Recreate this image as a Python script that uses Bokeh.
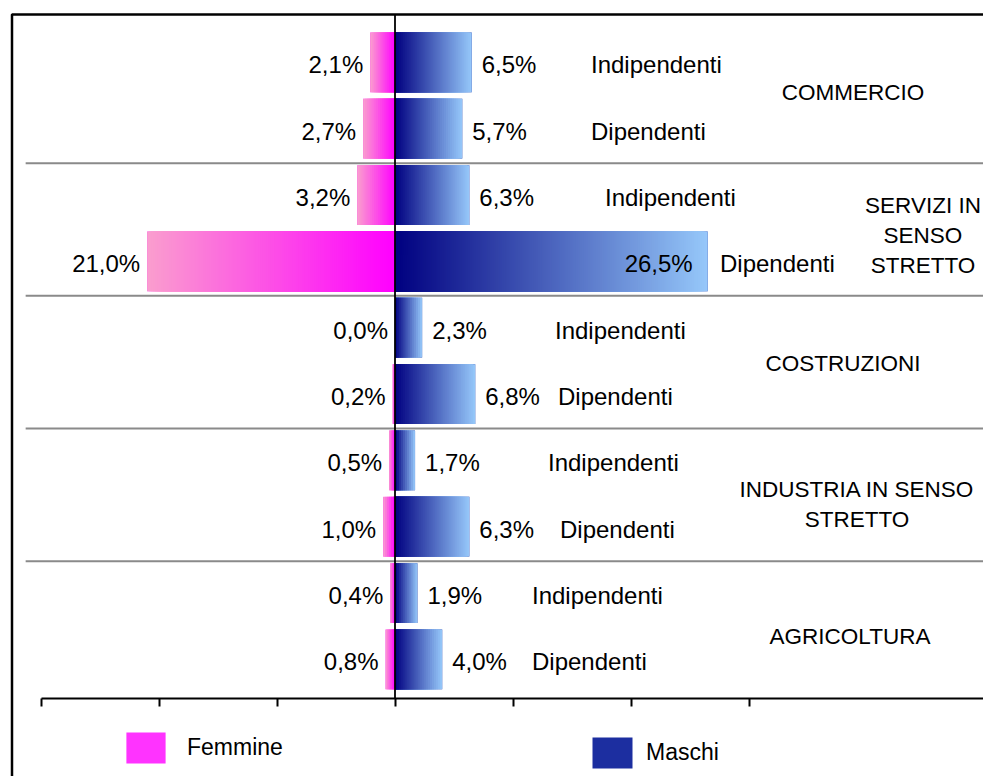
from bokeh.plotting import figure
from bokeh.models import ColumnDataSource, FixedTicker, Legend, LegendItem, Range1d, LinearAxis
from bokeh.core.properties import value
from bokeh.embed import file_html
from bokeh.resources import INLINE

# ---------------- data ----------------
settori = ["COMMERCIO", "SERVIZI IN\nSENSO\nSTRETTO", "COSTRUZIONI",
           "INDUSTRIA IN SENSO\nSTRETTO", "AGRICOLTURA"]
posizioni = ["Indipendenti", "Dipendenti"]
femmine = [2.1, 2.7, 3.2, 21.0, 0.0, 0.2, 0.5, 1.0, 0.4, 0.8]
maschi = [6.5, 5.7, 6.3, 26.5, 2.3, 6.8, 1.7, 6.3, 1.9, 4.0]
x_ticks = [-30, -20, -10, 0, 10, 20, 30]
serie = ["Femmine", "Maschi"]

# ---------------- style / layout ----------------
FONT = value("Liberation Sans")
FS = value("24px")
FS_SECT = value("22.5px")
F_NEAR, F_FAR = (255, 0, 255), (250, 158, 206)
M_NEAR, M_FAR = (0, 0, 128), (150, 200, 250)
BAR_H = 0.9
TYPE_LABEL_SHIFT = [196, 196, 210, 325, 160, 163, 153, 165, 137, 137]   # px from zero
SECTOR_LABEL_X = [458, 528, 448, 462, 455]                               # px from zero
SECTOR_LABEL_DY = [-4, 6, 1, 10, 9]                                      # px
PX_PER_X = 11.8

W, H = 983, 776
X0, X1 = -394.5 / PX_PER_X, (W - 394.5) / PX_PER_X
Y0, Y1 = -(H - 693.4) / 66.34, 693.4 / 66.34
AXIS_Y = -0.065
TOP_Y = (693.4 - 14) / 66.34
LEFT_X = (11.5 - 394.5) / PX_PER_X

n = len(femmine)
row_y = [n - (i + 0.5) for i in range(n)]
bar_y = [y + 0.02 for y in row_y]


def mix(c0, c1, t):
    return "#%02x%02x%02x" % tuple(int(round(a + (b - a) * t)) for a, b in zip(c0, c1))


p = figure(width=W, height=H, x_range=Range1d(X0, X1), y_range=Range1d(Y0, Y1),
           output_backend="svg", toolbar_location=None, min_border=0,
           x_axis_type=None, y_axis_type=None)
p.outline_line_color = None
p.background_fill_color = "white"
p.border_fill_color = "white"

# solid base bars (also used as legend swatches)
rf = p.hbar(y=bar_y, left=0, right=[-v for v in femmine], height=BAR_H,
            fill_color="#ff33ff", line_color=None)
rm = p.hbar(y=bar_y, left=0, right=maschi, height=BAR_H,
            fill_color="#1c2ea0", line_color=None)

# gradient overlay: nested quads from far end to zero, drawn far-to-near
q = dict(left=[], right=[], bottom=[], top=[], color=[])
for vals, sign, c0, c1 in ((femmine, -1, F_NEAR, F_FAR), (maschi, 1, M_NEAR, M_FAR)):
    for i, v in enumerate(vals):
        if v <= 0:
            continue
        ns = max(6, int(v * PX_PER_X / 2))
        for k in range(ns - 1, -1, -1):
            b = sign * v * (k + 1) / ns
            q["left"].append(min(0, b))
            q["right"].append(max(0, b))
            q["bottom"].append(bar_y[i] - BAR_H / 2)
            q["top"].append(bar_y[i] + BAR_H / 2)
            q["color"].append(mix(c0, c1, (k + 0.5) / ns))
p.quad(left="left", right="right", bottom="bottom", top="top", fill_color="color",
       line_color=None, source=ColumnDataSource(q))

# group separators
ng = len(settori)
sep_y = [n * g / ng for g in range(1, ng)]
p.segment(x0=[-31.3] * len(sep_y), x1=[X1] * len(sep_y), y0=sep_y, y1=sep_y,
          line_color="#8a8a8a", line_width=2)

# frame border (left and top)
p.line(x=[LEFT_X, LEFT_X, X1], y=[Y0, TOP_Y, TOP_Y], line_color="black", line_width=2.5)

# zero line
p.line(x=[0, 0], y=[AXIS_Y, TOP_Y], line_color="black", line_width=1.8)

# axis
ax = LinearAxis(ticker=FixedTicker(ticks=x_ticks), fixed_location=AXIS_Y, bounds=(x_ticks[0], X1))
ax.major_label_overrides = {t: "" for t in x_ticks}
ax.major_tick_in = 0
ax.major_tick_out = 8
ax.major_tick_line_width = 2
ax.major_tick_line_color = "black"
ax.axis_line_width = 2
ax.axis_line_color = "black"
ax.minor_tick_line_color = None
p.add_layout(ax, "below")


def pct(v):
    return ("%.1f" % v).replace(".", ",") + "%"


# female labels
p.text(x=[-v for v in femmine], y=row_y, text=[pct(v) for v in femmine],
       text_align="right", text_baseline="middle", x_offset=-7, y_offset=1,
       text_font=FONT, text_font_size=FS, text_color="black")

# male labels
out_i = [i for i, v in enumerate(maschi) if v < 20]
in_i = [i for i, v in enumerate(maschi) if v >= 20]
p.text(x=[maschi[i] for i in out_i], y=[row_y[i] for i in out_i],
       text=[pct(maschi[i]) for i in out_i], text_align="left", text_baseline="middle",
       x_offset=10, y_offset=1, text_font=FONT, text_font_size=FS, text_color="black")
p.text(x=[maschi[i] for i in in_i], y=[row_y[i] for i in in_i],
       text=[pct(maschi[i]) for i in in_i], text_align="right", text_baseline="middle",
       x_offset=-15, y_offset=1, text_font=FONT, text_font_size=FS, text_color="black")

# position labels
p.text(x=[s / PX_PER_X for s in TYPE_LABEL_SHIFT], y=row_y,
       text=[posizioni[i % 2] for i in range(n)], text_align="left", text_baseline="middle",
       y_offset=1, text_font=FONT, text_font_size=FS, text_color="black")

# sector labels
grp_y = [n - (g + 0.5) * n / ng for g in range(ng)]
p.text(x=[s / PX_PER_X for s in SECTOR_LABEL_X], y=grp_y, text=settori,
       y_offset=SECTOR_LABEL_DY, text_align="center", text_baseline="middle",
       text_line_height=1.2, text_font=FONT, text_font_size=FS_SECT, text_color="black")

# legend (area legend glyphs are drawn at 80% of the glyph box)
for r, lab, loc, glw, glh, gap in ((rf, serie[0], (121, 9), 49, 39, 17),
                                   (rm, serie[1], (587, 4), 50, 39, 9)):
    leg = Legend(items=[LegendItem(label=lab, renderers=[r])], location=loc,
                 glyph_width=glw, glyph_height=glh, label_standoff=gap, padding=0, margin=0,
                 spacing=0, border_line_alpha=0, background_fill_alpha=0,
                 label_text_font="Liberation Sans", label_text_font_size="23px",
                 label_text_color="black")
    p.add_layout(leg)

open("out.html", "w").write(file_html(p, INLINE))
